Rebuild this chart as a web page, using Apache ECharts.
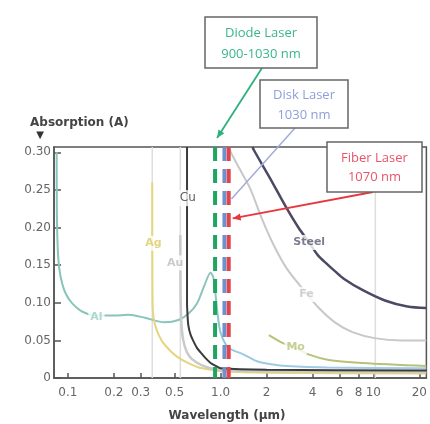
<!DOCTYPE html>
<html><head><meta charset="utf-8">
<script src="https://cdn.jsdelivr.net/npm/echarts@6/dist/echarts.min.js"></script>
<style>html,body{margin:0;padding:0;background:#fff}#c{width:430px;height:424px}</style>
</head><body><div id="c"></div>
<script>
// ---- data ----
const xTicks = [0.1, 0.2, 0.3, 0.5, 1.0, 2, 4, 6, 8, 10, 20];
const yTicks = [0, 0.05, 0.10, 0.15, 0.20, 0.25, 0.30];
const metals = ['Al', 'Ag', 'Au', 'Cu', 'Steel', 'Fe', 'Mo'];
const alData = [[0.0845,0.30],[0.0848,0.22],[0.086,0.17],[0.088,0.145],[0.092,0.125],[0.097,0.112],[0.105,0.101],[0.115,0.093],[0.125,0.088],[0.15,0.083],[0.2,0.083],[0.25,0.084],[0.32,0.080],[0.43,0.074],[0.53,0.077],[0.62,0.086],[0.7,0.099],[0.78,0.122],[0.86,0.140],[0.9,0.132],[0.95,0.09],[1.0,0.06],[1.1,0.042],[1.2,0.037],[1.35,0.033],[1.55,0.027],[1.75,0.022],[2.2,0.018],[2.7,0.016],[5,0.014],[22.2,0.013]];
const agData = [[0.357,0.26],[0.357,0.20],[0.358,0.12],[0.36,0.09],[0.368,0.075],[0.38,0.065],[0.392,0.058],[0.42,0.047],[0.475,0.035],[0.53,0.027],[0.61,0.02],[0.72,0.014],[0.86,0.011],[1.0,0.009],[2,0.007],[22.2,0.006]];
const auData = [[0.545,0.19],[0.546,0.14],[0.548,0.10],[0.555,0.07],[0.57,0.05],[0.6,0.035],[0.65,0.025],[0.75,0.017],[0.9,0.012],[1.2,0.01],[3,0.009],[22.2,0.008]];
const cuData = [[0.603,0.307],[0.603,0.10],[0.607,0.085],[0.615,0.07],[0.635,0.058],[0.66,0.05],[0.7,0.04],[0.74,0.034],[0.8,0.026],[0.86,0.02],[0.93,0.016],[1.0,0.013],[2,0.011],[22.2,0.01]];
const steelData = [[1.62,0.307],[1.65,0.303],[2.1,0.266],[2.7,0.226],[3.23,0.200],[3.8,0.18],[4.34,0.163],[5.0,0.151],[5.6,0.142],[6.4,0.132],[8.47,0.117],[11.9,0.103],[16.7,0.095],[22.2,0.093]];
const feData = [[1.12,0.307],[1.29,0.283],[1.56,0.252],[1.86,0.212],[2.22,0.177],[2.70,0.146],[3.49,0.117],[4.4,0.093],[5.6,0.074],[7.3,0.061],[10.2,0.053],[15.3,0.05],[22.2,0.05]];
const moData = [[2.07,0.057],[2.58,0.046],[3.1,0.040],[3.8,0.031],[5.1,0.024],[8.5,0.02],[22.2,0.016]];
const labelX = [0.154, 0.364, 0.505, 0.61, 3.8, 3.65, 3.1];
const labelY = [0.081, 0.179, 0.153, 0.239, 0.18, 0.111, 0.041];
const laserNames = ['Diode Laser', 'Disk Laser', 'Fiber Laser'];
const laserRange = ['900-1030 nm', '1030 nm', '1070 nm'];
const laserX = [0.92, 1.06, 1.13];
const guideX = [0.357, 0.545, 10.3];

// ---- styles ----
const curveData = [alData, agData, auData, cuData, steelData, feData, moData];
const curveColor = {Al:'#8cc9bd', Ag:'#e4d57e', Au:'#cacaca', Cu:'#3b3b3b', Steel:'#4a4a62', Fe:'#c8c8c8', Mo:'#b6c27a'};
const labelColor = {Al:'#9fcfc4', Ag:'#dccb62', Au:'#bdbdbd', Cu:'#333', Steel:'#5a5a72', Fe:'#c4c4c4', Mo:'#b9c27c'};
const curveWidth = {Al:2, Ag:2, Au:2.5, Cu:2, Steel:2.5, Fe:2, Mo:2};
const laserColor = ['#1fa463', '#6f8fce', '#e0454a'];
const textColor = ['#3ab58c', '#8d9fda', '#ea5469'];
const arrowColor = ['#2fb07e', '#a3abd9', '#e8383f'];
const FONT = '"DejaVu Sans", sans-serif';
const YMAX = 0.307, XMIN = 0.0812, XMAX = 22.23;

const series = [];
guideX.forEach(g => series.push({
  type: 'line', data: [[g, 0], [g, YMAX]], symbol: 'none', silent: true, z: 1,
  lineStyle: {color: '#dedede', width: 1.5}
}));
metals.forEach((m, i) => {
  let color = curveColor[m];
  if (m === 'Al') {
    color = new echarts.graphic.LinearGradient(0, 0, 1, 0, [
      {offset: 0, color: '#84c6b8'}, {offset: 0.42, color: '#8cc4bc'},
      {offset: 0.48, color: '#9cc9e3'}, {offset: 1, color: '#a4cde6'}]);
  }
  series.push({
    type: 'line', name: m, data: curveData[i], symbol: 'none', smooth: 0.3, silent: true, z: 2,
    lineStyle: {color: color, width: curveWidth[m]}
  });
});
series.push({
  type: 'scatter', z: 5, silent: true, symbolSize: 1, itemStyle: {color: 'rgba(255,255,255,0)'},
  data: metals.map((m, i) => ({
    value: [labelX[i], labelY[i]],
    label: {color: labelColor[m], fontWeight: m === 'Cu' ? 'normal' : 'bold', fontSize: m === 'Cu' ? 12 : 11}
  })),
  label: {show: true, position: 'inside', formatter: p => metals[p.dataIndex],
    backgroundColor: '#fff', padding: [2, 2], fontFamily: FONT}
});
laserX.forEach((lx, i) => series.push({
  type: 'line', data: [[lx, YMAX], [lx, 0]], symbol: 'none', silent: true, z: 6, clip: false,
  lineStyle: {color: laserColor[i], width: 4, type: [14, 8]}
}));

const option = {
  animation: false,
  backgroundColor: '#fff',
  grid: {left: 54, right: -2, top: 147, bottom: 46, show: true, borderColor: '#555', borderWidth: 1.5, backgroundColor: 'transparent'},
  xAxis: {
    type: 'log', min: XMIN, max: XMAX, logBase: 10,
    axisLine: {lineStyle: {color: '#555', width: 1.5}},
    axisTick: {inside: true, length: 5, customValues: xTicks, lineStyle: {color: '#555', width: 1.5}},
    axisLabel: {customValues: xTicks, margin: 9, color: '#666', fontSize: 12, fontFamily: FONT,
      formatter: v => (Math.abs(v - 1) < 1e-9 ? '1.0' : String(+v.toPrecision(3)))},
    splitLine: {show: false}, minorTick: {show: false}
  },
  yAxis: {
    type: 'value', min: 0, max: YMAX,
    axisLine: {show: true, lineStyle: {color: '#555', width: 1.5}},
    axisTick: {show: true, inside: true, length: 7, customValues: yTicks, lineStyle: {color: '#555', width: 1.5}},
    axisLabel: {customValues: yTicks, margin: 3, color: '#666', fontSize: 12, fontFamily: FONT,
      formatter: v => (v === 0 ? '0' : v.toFixed(2))},
    splitLine: {show: false}
  },
  series: series
};

const chart = echarts.init(document.getElementById('c'));
chart.setOption(option);

const px = (x, y) => chart.convertToPixel({seriesIndex: 0}, [x, y]);
function arrow(from, to, color, width, head) {
  const els = [{type: 'line', z: 50, silent: true,
    shape: {x1: from[0], y1: from[1], x2: to[0], y2: to[1]},
    style: {stroke: color, lineWidth: width}}];
  if (head) {
    const a = Math.atan2(to[1] - from[1], to[0] - from[0]);
    const L = 8, W = 3.5;
    const bx = to[0] - L * Math.cos(a), by = to[1] - L * Math.sin(a);
    els.push({type: 'polygon', z: 51, silent: true,
      shape: {points: [to, [bx + W * Math.sin(a), by - W * Math.cos(a)], [bx - W * Math.sin(a), by + W * Math.cos(a)]]},
      style: {fill: color}});
  }
  return els;
}
const boxes = [{x: 205, y: 17, w: 112, h: 51, lh: 21}, {x: 260, y: 80, w: 88, h: 48, lh: 20}, {x: 327, y: 142, w: 95, h: 50, lh: 19}];
const starts = [[262, 68], [295, 128], [373, 192]];
const top0 = px(laserX[0], YMAX);
const disk = px(laserX[1], 0.238);
const fib = px(laserX[2], 0.212);
const ends = [[top0[0] + 2, top0[1] - 9], [disk[0] + 7, disk[1]], [fib[0] + 4, fib[1]]];
let g = [];
laserNames.forEach((n, i) => {
  const b = boxes[i];
  g = g.concat(arrow(starts[i], ends[i], arrowColor[i], i === 1 ? 1.5 : 1.8, i !== 1));
  g.push({type: 'rect', z: 60, silent: true, shape: {x: b.x, y: b.y, width: b.w, height: b.h},
    style: {fill: '#fff', stroke: '#666', lineWidth: 1.5}});
  g.push({type: 'text', z: 61, silent: true, style: {
    text: n + '\n' + laserRange[i], x: b.x + b.w / 2, y: b.y + b.h / 2 + 1,
    align: 'center', verticalAlign: 'middle', textAlign: 'center', textVerticalAlign: 'middle',
    fill: textColor[i], font: '13px "Open Sans", sans-serif', lineHeight: b.lh}});
});
g.push({type: 'text', z: 61, silent: true, style: {text: 'Absorption (A)', x: 30, y: 123,
  verticalAlign: 'middle', textVerticalAlign: 'middle', fill: '#444', font: 'bold 12px "DejaVu Sans", sans-serif'}});
g.push({type: 'text', z: 61, silent: true, style: {text: '▼', x: 40, y: 135, align: 'center', textAlign: 'center',
  verticalAlign: 'middle', textVerticalAlign: 'middle', fill: '#333', font: '10px "DejaVu Sans", sans-serif'}});
g.push({type: 'text', z: 61, silent: true, style: {text: 'Wavelength (μm)', x: 227, y: 416, align: 'center', textAlign: 'center',
  verticalAlign: 'middle', textVerticalAlign: 'middle', fill: '#444', font: 'bold 12px "DejaVu Sans", sans-serif'}});
chart.setOption({graphic: {elements: g}});
</script>
</body></html>
